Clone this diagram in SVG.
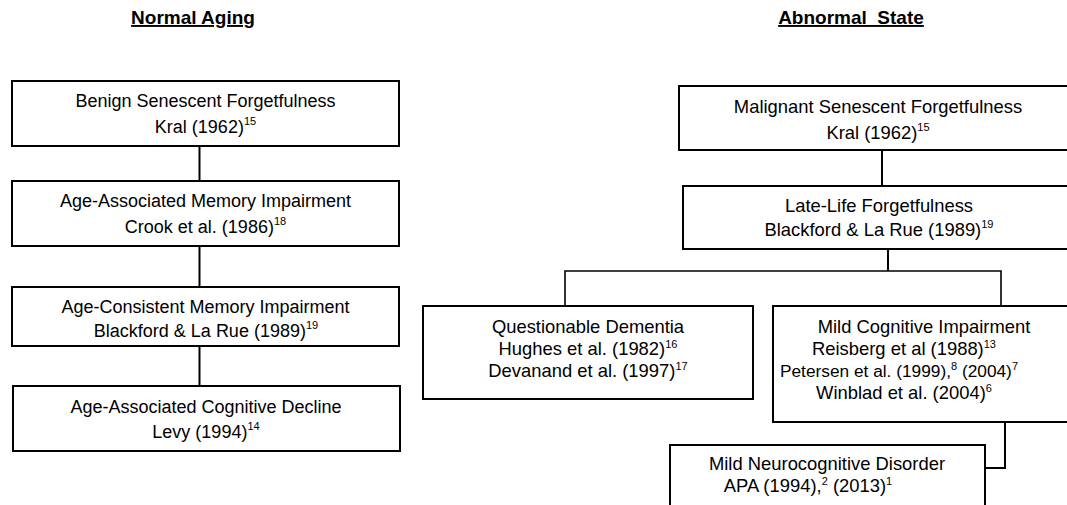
<svg xmlns="http://www.w3.org/2000/svg" width="1067" height="505" viewBox="0 0 1067 505">
<style>
.box{fill:#fff;stroke:#000;stroke-width:2}
.t{font-family:"Liberation Sans",Arial,sans-serif;font-size:18px;fill:#000;text-anchor:middle}
.r{font-size:18.4px}
.p{font-size:17.3px}
.s{font-size:11px}
.h{font-family:"Liberation Sans",Arial,sans-serif;font-size:19px;font-weight:bold;fill:#000;text-anchor:middle;text-decoration:underline}
.c{fill:none;stroke:#000;stroke-width:2}
.c2{fill:none;stroke:#000;stroke-width:1.6}
</style>
<rect width="1067" height="505" fill="#fff"/>
<g id="titles">
<text class="h" x="193" y="24">Normal Aging</text>
<text class="h" x="851" y="24" xml:space="preserve">Abnormal  State</text>
</g>
<g id="connectors">
<line class="c" x1="199.5" y1="146" x2="199.5" y2="181"/>
<line class="c" x1="199.5" y1="246" x2="199.5" y2="287"/>
<line class="c" x1="199.5" y1="346" x2="199.5" y2="386"/>
<line class="c" x1="882" y1="150" x2="882" y2="186"/>
<line class="c" x1="888" y1="249" x2="888" y2="271"/>
<polyline class="c2" points="565,306 565,271 1001,271 1001,306"/>
<polyline class="c" points="1005,422 1005,468 985,468"/>
</g>
<g id="n1">
<rect class="box" x="12" y="81" width="387" height="65"/>
<text class="t" x="205.5" y="107">Benign Senescent Forgetfulness</text>
<text class="t" x="205.5" y="133">Kral (1962)<tspan class="s" dy="-8">15</tspan></text>
</g>
<g id="n2">
<rect class="box" x="12" y="181" width="387" height="65"/>
<text class="t" x="205.5" y="207">Age-Associated Memory Impairment</text>
<text class="t" x="205.5" y="233">Crook et al. (1986)<tspan class="s" dy="-8">18</tspan></text>
</g>
<g id="n3">
<rect class="box" x="12" y="287" width="387" height="59"/>
<text class="t" x="205.5" y="313">Age-Consistent Memory Impairment</text>
<text class="t" x="206" y="337">Blackford &amp; La Rue (1989)<tspan class="s" dy="-8">19</tspan></text>
</g>
<g id="n4">
<rect class="box" x="13" y="386" width="387" height="65"/>
<text class="t" x="206" y="413">Age-Associated Cognitive Decline</text>
<text class="t" x="206" y="438">Levy (1994)<tspan class="s" dy="-8">14</tspan></text>
</g>
<g id="n5">
<rect class="box" x="679" y="86" width="398" height="64"/>
<text class="t r" x="878" y="113">Malignant Senescent Forgetfulness</text>
<text class="t r" x="878" y="139">Kral (1962)<tspan class="s" dy="-8">15</tspan></text>
</g>
<g id="n6">
<rect class="box" x="683" y="186" width="390" height="63"/>
<text class="t r" x="879" y="212">Late-Life Forgetfulness</text>
<text class="t r" x="879" y="236">Blackford &amp; La Rue (1989)<tspan class="s" dy="-8">19</tspan></text>
</g>
<g id="n7">
<rect class="box" x="423" y="306" width="330" height="93"/>
<text class="t r" x="588" y="333">Questionable Dementia</text>
<text class="t r" x="588" y="355">Hughes et al. (1982)<tspan class="s" dy="-7">16</tspan></text>
<text class="t r" x="588" y="377">Devanand et al. (1997)<tspan class="s" dy="-7">17</tspan></text>
</g>
<g id="n8">
<rect class="box" x="773" y="306" width="302" height="116"/>
<text class="t r" x="924" y="333">Mild Cognitive Impairment</text>
<text class="t r" x="904" y="355">Reisberg et al (1988)<tspan class="s" dy="-7">13</tspan></text>
<text class="t p" x="899" y="377">Petersen et al. (1999),<tspan class="s" dy="-7">8</tspan><tspan dy="7"> (2004)</tspan><tspan class="s" dy="-7">7</tspan></text>
<text class="t r" x="904" y="399">Winblad et al. (2004)<tspan class="s" dy="-7">6</tspan></text>
</g>
<g id="n9">
<rect class="box" x="670" y="445" width="315" height="66"/>
<text class="t r" x="827" y="470">Mild Neurocognitive Disorder</text>
<text class="t r" x="808" y="492">APA (1994),<tspan class="s" dy="-7">2</tspan><tspan dy="7"> (2013)</tspan><tspan class="s" dy="-7">1</tspan></text>
</g>
</svg>
